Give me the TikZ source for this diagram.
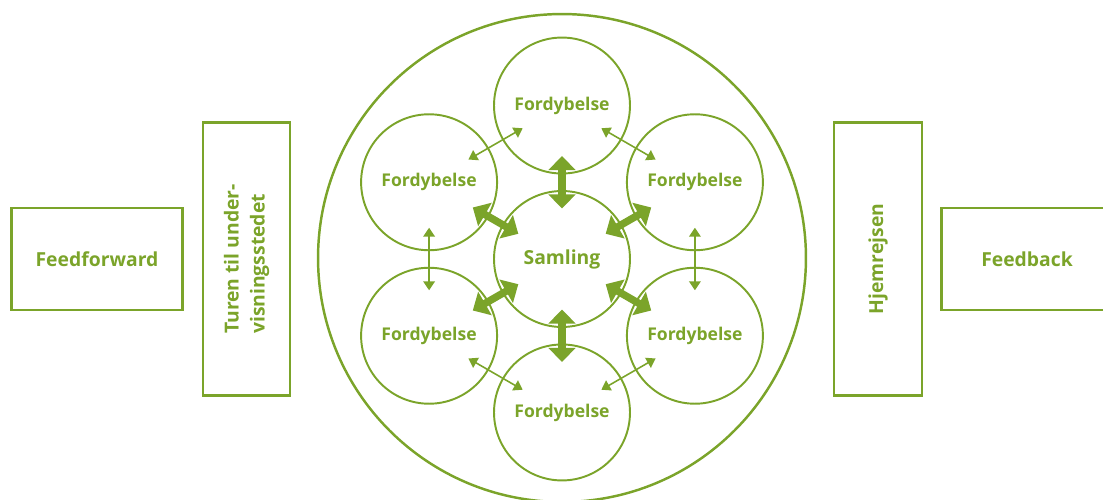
\documentclass[tikz,border=0pt]{standalone}
\usepackage{fontspec}
\setsansfont{Open Sans}
\usetikzlibrary{arrows.meta,positioning,calc}
\definecolor{leafgreen}{RGB}{123,164,42}

\begin{document}
\begin{tikzpicture}[x=0.02cm, y=-0.02cm, font=\sffamily\bfseries\fontsize{11}{14.8}\selectfont]
\tikzstyle{every node}=[draw=leafgreen, text=leafgreen]
\tikzstyle{box}=[rectangle, line width=1.3pt, align=left, inner sep=0pt]
\tikzstyle{ring}=[circle, line width=1.4pt, minimum size=9.76cm]
\tikzstyle{stop}=[circle, line width=1.1pt, minimum size=2.72cm, inner sep=0pt]
\tikzstyle{thin arr}=[draw=leafgreen, line width=0.9pt, {Triangle[width=6.5pt,length=5pt]}-{Triangle[width=6.5pt,length=5pt]}, shorten <=-0.47cm, shorten >=-0.47cm]
\tikzstyle{thick arr}=[draw=leafgreen, line width=4.2pt, {Triangle[width=15pt,length=8pt]}-{Triangle[width=15pt,length=8pt]}, shorten <=-0.37cm, shorten >=-0.37cm]

\useasboundingbox (0,0) rectangle (1103,500);
\clip (0,0) rectangle (1103,500);

\node[box, minimum width=3.42cm, minimum height=2.04cm] (FF) at (97,259) {Feedforward};
\node[box, rotate=90, minimum width=5.46cm, minimum height=1.74cm] (T) at (246.5,259) {Turen til under-\\visningsstedet};
\node[ring] (R) at (562,258) {};
\node[box, rotate=90, minimum width=5.46cm, minimum height=1.76cm] (H) at (878,259) {Hjemrejsen};
\node[box, minimum width=3.42cm, minimum height=2.04cm] (FB) at (1027,259) {Feedback};

\node[stop] (S) at (562,259) {Samling};
\tikzstyle{every node}=[draw=leafgreen, text=leafgreen, font=\sffamily\bfseries\fontsize{10}{12}\selectfont]
\node[stop] (F1) at ($(S)+(90:3.07cm)$) {Fordybelse};
\node[stop] (F2) at ($(S)+(30:3.07cm)$) {Fordybelse};
\node[stop] (F3) at ($(S)+(-30:3.07cm)$) {Fordybelse};
\node[stop] (F4) at ($(S)+(-90:3.07cm)$) {Fordybelse};
\node[stop] (F5) at ($(S)+(-150:3.07cm)$) {Fordybelse};
\node[stop] (F6) at ($(S)+(150:3.07cm)$) {Fordybelse};

\path
(S) edge[thick arr] (F1)
    edge[thick arr] (F2)
    edge[thick arr] (F3)
    edge[thick arr] (F4)
    edge[thick arr] (F5)
    edge[thick arr] (F6);
\path
(F1) edge[thin arr] (F2)
(F2) edge[thin arr] (F3)
(F3) edge[thin arr] (F4)
(F4) edge[thin arr] (F5)
(F5) edge[thin arr] (F6)
(F6) edge[thin arr] (F1);
\end{tikzpicture}
\end{document}
